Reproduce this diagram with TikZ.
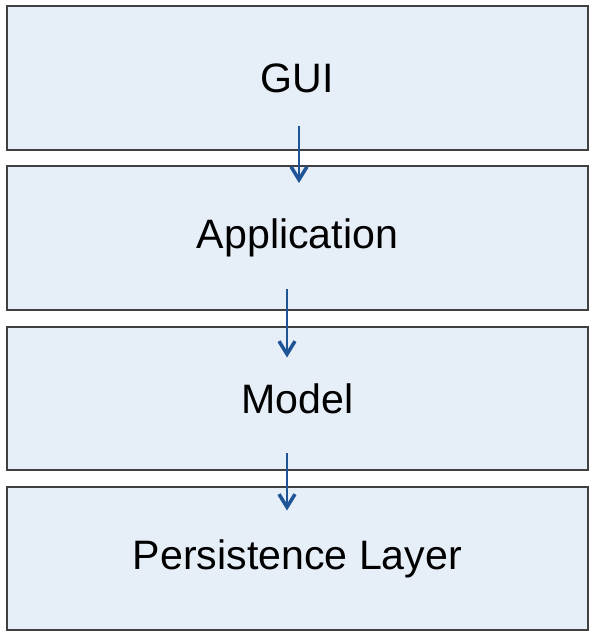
\documentclass[tikz,border=0pt]{standalone}
\usepackage{fontspec}
\setmainfont{Liberation Sans}
\usepackage{tikz}
\usetikzlibrary{arrows.meta}
\definecolor{layerfill}{HTML}{E6EEF8}
\definecolor{layerline}{HTML}{404040}
\definecolor{flowblue}{HTML}{1F5596}

\begin{document}
\begin{tikzpicture}[x=0.02cm,y=-0.02cm,
	layer/.style={draw=layerline,fill=layerfill,line width=0.04cm,minimum width=11.62cm,minimum height=2.88cm,inner sep=0pt,font=\fontsize{23.4}{26}\selectfont},
	flow/.style={draw=flowblue,line width=0.028cm,-{Straight Barb[length=0.26cm,width=0.32cm,line width=0.07cm]}}]
	\useasboundingbox (0,0) rectangle (593,639);
	\node[layer] (gui) at (297.5,78) {GUI};
	\node[layer] (app) at (297.5,238) {Application};
	\node[layer] (model) at (297.5,398.5) {Model};
	\node[layer] (persist) at (297.5,558.5) {Persistence Layer};
	
	\draw[flow] ([xshift=0.03cm,yshift=0.5cm]gui.south) -- ([xshift=0.03cm,yshift=-0.36cm]app.north);
	\draw[flow] ([xshift=-0.21cm,yshift=0.44cm]app.south) -- ([xshift=-0.21cm,yshift=-0.64cm]model.north);
	\draw[flow] ([xshift=-0.21cm,yshift=0.36cm]model.south) -- ([xshift=-0.21cm,yshift=-0.5cm]persist.north);
	
\end{tikzpicture}
\end{document}
